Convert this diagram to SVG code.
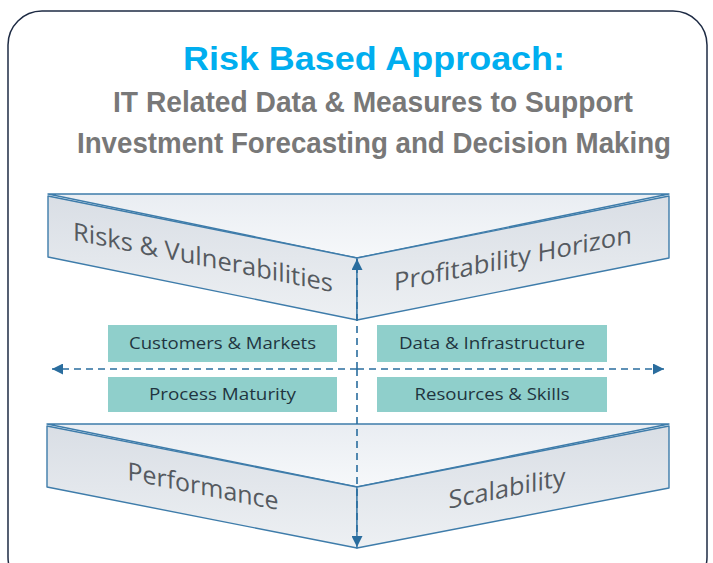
<svg xmlns="http://www.w3.org/2000/svg" width="713" height="563" viewBox="0 0 713 563">
  <defs>
    <linearGradient id="gTop" x1="0" y1="0" x2="0" y2="1">
      <stop offset="0" stop-color="#E9EDF2"/>
      <stop offset="1" stop-color="#F6F8FA"/>
    </linearGradient>
    <linearGradient id="gFront" x1="0" y1="0" x2="0" y2="1">
      <stop offset="0" stop-color="#D9DEE5"/>
      <stop offset="1" stop-color="#EDF0F3"/>
    </linearGradient>
    <marker id="ah" viewBox="0 0 10 10" refX="10" refY="5" markerWidth="11" markerHeight="11" markerUnits="userSpaceOnUse" orient="auto-start-reverse">
      <path d="M0,0 L10,5 L0,10 z" fill="#2A6D9E"/>
    </marker>
  </defs>
  <style>
    .frame { fill: #FFFFFF; stroke: #1E2B44; stroke-width: 1.5; }
    .title { font-family: "Liberation Sans", Arial, sans-serif; font-weight: bold; fill: #00AEEF; }
    .sub { font-family: "Liberation Sans", Arial, sans-serif; font-weight: bold; fill: #787878; }
    .top { fill: url(#gTop); stroke: #3E7CAA; stroke-width: 1.4; stroke-linejoin: round; }
    .front { fill: url(#gFront); stroke: #3E7CAA; stroke-width: 1.4; stroke-linejoin: round; }
    .face { font-family: "Open Sans", "Liberation Sans", sans-serif; fill: #555A60; font-size: 25px; }
    .box { fill: #8FCFCB; }
    .boxt { font-family: "Open Sans", "Liberation Sans", sans-serif; fill: #1F3540; font-size: 16px; }
    .dash { stroke: #2A6D9E; stroke-width: 1.6; stroke-dasharray: 7 5; fill: none; }
  </style>

  <rect class="frame" x="8" y="11" width="699" height="580" rx="34" ry="34"/>

  <g id="title">
    <text class="title" x="374" y="70" font-size="34" text-anchor="middle" textLength="382" lengthAdjust="spacingAndGlyphs">Risk Based Approach:</text>
    <text class="sub" x="373" y="112" font-size="29" text-anchor="middle" textLength="520" lengthAdjust="spacingAndGlyphs">IT Related Data &amp; Measures to Support</text>
    <text class="sub" x="374" y="153" font-size="29" text-anchor="middle" textLength="594" lengthAdjust="spacingAndGlyphs">Investment Forecasting and Decision Making</text>
  </g>

  <g id="top-chevron">
    <polygon class="top" points="48,194 669,194 357,258"/>
    <polygon class="front" points="48,196 357,258 357,320 48,257"/>
    <polygon class="front" points="357,258 669,196 669,258 357,320"/>
  </g>
  <g id="risks">
    <text class="face" transform="translate(203,266) skewY(11.35)" text-anchor="middle" textLength="260" lengthAdjust="spacingAndGlyphs">Risks &amp; Vulnerabilities</text>
  </g>
  <g id="profitability">
    <text class="face" transform="translate(513,267) skewY(-11.35)" text-anchor="middle" textLength="238" lengthAdjust="spacingAndGlyphs">Profitability Horizon</text>
  </g>

  <g id="bottom-chevron">
    <polygon class="top" points="47,424 669,424 357,487"/>
    <polygon class="front" points="47,426 357,487 357,548 47,487"/>
    <polygon class="front" points="357,487 669,426 669,488 357,548"/>
  </g>
  <g id="performance">
    <text class="face" transform="translate(203,495) skewY(11.35)" text-anchor="middle" textLength="151" lengthAdjust="spacingAndGlyphs">Performance</text>
  </g>
  <g id="scalability">
    <text class="face" transform="translate(507,497) skewY(-11.35)" text-anchor="middle" textLength="117" lengthAdjust="spacingAndGlyphs">Scalability</text>
  </g>

  <g id="customers">
    <rect class="box" x="108" y="325" width="229" height="37"/>
    <text class="boxt" x="222.5" y="349" text-anchor="middle" textLength="187" lengthAdjust="spacingAndGlyphs">Customers &amp; Markets</text>
  </g>
  <g id="process">
    <rect class="box" x="108" y="377" width="229" height="35"/>
    <text class="boxt" x="222.5" y="400" text-anchor="middle" textLength="147" lengthAdjust="spacingAndGlyphs">Process Maturity</text>
  </g>
  <g id="data">
    <rect class="box" x="377" y="325" width="230" height="37"/>
    <text class="boxt" x="492" y="349" text-anchor="middle" textLength="186" lengthAdjust="spacingAndGlyphs">Data &amp; Infrastructure</text>
  </g>
  <g id="resources">
    <rect class="box" x="377" y="377" width="230" height="35"/>
    <text class="boxt" x="492" y="400" text-anchor="middle" textLength="155" lengthAdjust="spacingAndGlyphs">Resources &amp; Skills</text>
  </g>

  <g id="connectors">
    <line class="dash" x1="357" y1="369" x2="52" y2="369" marker-end="url(#ah)"/>
    <line class="dash" x1="357" y1="369" x2="664" y2="369" marker-end="url(#ah)"/>
    <line class="dash" x1="357" y1="369" x2="357" y2="259" marker-end="url(#ah)"/>
    <line class="dash" x1="357" y1="369" x2="357" y2="547" marker-end="url(#ah)"/>
  </g>
</svg>
